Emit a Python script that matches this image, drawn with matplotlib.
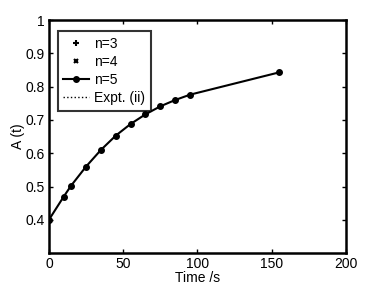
import matplotlib
matplotlib.use('Agg')
import matplotlib.pyplot as plt

plt.rcParams['font.family'] = ['Liberation Sans', 'DejaVu Sans']

time_n5 = [0, 10, 15, 25, 35, 45, 55, 65, 75, 85, 95, 155]
a_n5 = [0.400, 0.470, 0.503, 0.560, 0.610, 0.653, 0.688, 0.717, 0.741, 0.760, 0.776, 0.843]
xticks = [0, 50, 100, 150, 200]
yticks = [0.4, 0.5, 0.6, 0.7, 0.8, 0.9, 1]
ytick_labels = ['0.4', '0.5', '0.6', '0.7', '0.8', '0.9', '1']

fig = plt.figure(figsize=(3.82, 2.87), dpi=100)
ax = fig.add_axes([0.128, 0.118, 0.778, 0.812])

ax.plot([], [], 'k+', markersize=5, mew=1.5, label='n=3')
ax.plot([], [], 'kx', markersize=3.5, mew=1.5, label='n=4')
ax.plot(time_n5, a_n5, 'k-', marker='o', markersize=4, lw=1.5, label='n=5')
ax.plot([], [], 'k:', lw=1, label='Expt. (ii)')

ax.set_xlim(0, 200)
ax.set_ylim(0.3, 1)
ax.set_xticks(xticks)
ax.set_yticks(yticks)
ax.set_yticklabels(ytick_labels)
ax.tick_params(direction='in', top=True, right=True, labelsize=10, length=3, width=1, pad=3)
for s in ax.spines.values():
    s.set_linewidth(1.8)
ax.set_xlabel('Time /s', fontsize=10, labelpad=0)
ax.set_ylabel('A (t)', fontsize=10, labelpad=0)

leg = ax.legend(loc='upper left', bbox_to_anchor=(0.03, 0.952), fontsize=10,
                frameon=True, fancybox=False, edgecolor='black', borderpad=0.4,
                labelspacing=0.3, handlelength=1.87, handletextpad=0.36, borderaxespad=0)
leg.get_frame().set_linewidth(1.5)

fig.savefig('out.png', dpi=100)
